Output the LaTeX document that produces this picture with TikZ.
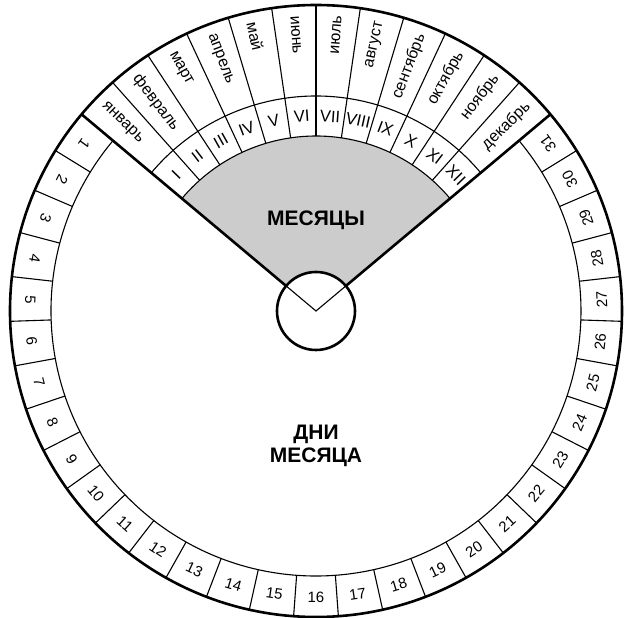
\documentclass[tikz,border=0pt]{standalone}
\usepackage{fontspec}
\setmainfont{Liberation Sans}

\begin{document}
\begin{tikzpicture}[
    x=1pt, y=1pt,
    thinline/.style={line width=1.1pt},
    boldline/.style={line width=2.6pt},
    daynum/.style={font=\fontsize{15}{15}\selectfont, inner sep=0pt},
    romannum/.style={font=\fontsize{16.5}{16.5}\selectfont, inner sep=0pt},
    monthname/.style={font=\fontsize{16}{16}\selectfont, inner sep=0pt},
    centerlabel/.style={font=\bfseries\fontsize{21}{23}\selectfont, align=center}
  ]
  \useasboundingbox (-316,-307) rectangle (308,311);
  % months sector
  \fill[black!20] (0,0) -- (40:175) arc[start angle=40, end angle=140, radius=175] -- cycle;
  \fill[white] (0,0) circle[radius=39];
  \draw[thinline] (140:39) -- (0,0) -- (40:39);
  \draw[thinline] (40:175) arc[start angle=40, end angle=140, radius=175];
  \draw[thinline] (40:215) arc[start angle=40, end angle=140, radius=215];
  \foreach \k in {1,...,11}
    \draw[thinline] ({140-\k*100/12}:175) -- ({140-\k*100/12}:306);
  % days ring
  \draw[thinline] (140:265) arc[start angle=140, end angle=400, radius=265];
  \foreach \k in {1,...,30}
    \draw[thinline] ({140+\k*260/31}:265) -- ({140+\k*260/31}:306);
  \draw[boldline] (0,0) circle[radius=306];
  \draw[boldline] (140:39) -- (140:306);
  \draw[boldline] (40:39) -- (40:306);
  \draw[boldline] (0,0) circle[radius=39];

  % labels
  \foreach \d [evaluate=\d as \a using {140+(\d-0.5)*260/31}] in {1,...,31}
    \node[daynum, rotate=\a+90] (d\d) at (\a:286) {\d};
  \foreach \r [count=\i, evaluate=\i as \a using {140-(\i-0.5)*100/12}] in {I,II,III,IV,V,VI,VII,VIII,IX,X,XI,XII}
    \node[romannum, rotate=\a-90] (r\i) at (\a:195) {\r};
  \foreach \m [count=\i, evaluate=\i as \a using {140-(\i-0.5)*100/12}] in
      {январь,февраль,март,апрель,май,июнь,июль,август,сентябрь,октябрь,ноябрь,декабрь}{
    \ifnum\i<7
      \node[monthname, anchor=west, rotate=\a-180] (m\i) at (\a:296) {\m};
    \else
      \node[monthname, anchor=east, rotate=\a] (m\i) at (\a:296) {\m};
    \fi
  }

  \node[centerlabel] (months) at (0,91) {МЕСЯЦЫ};
  \node[centerlabel] (days) at (0,-135) {ДНИ\\МЕСЯЦА};
\end{tikzpicture}
\end{document}
